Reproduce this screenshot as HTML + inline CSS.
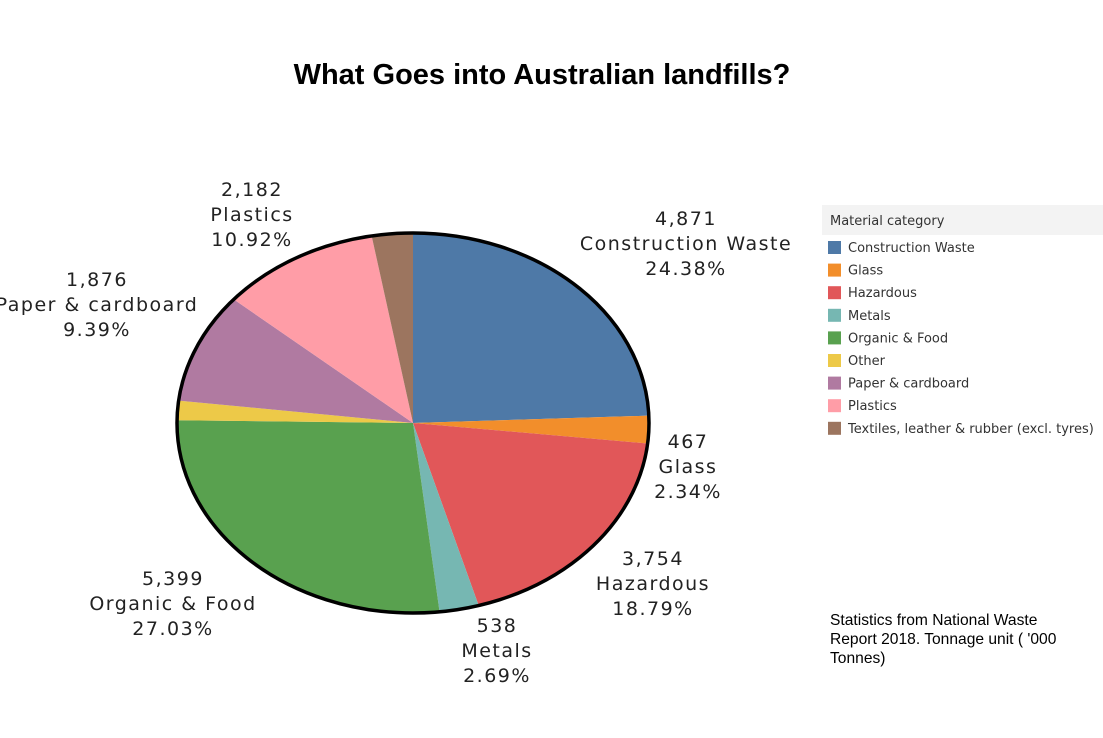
<!DOCTYPE html>
<html><head><meta charset="utf-8"><style>
body{margin:0;background:#fff;width:1103px;height:733px;overflow:hidden;font-family:"Liberation Sans",sans-serif}
</style></head><body>
<svg id="chart" width="1103" height="733">
<text x="542" y="84" text-anchor="middle" font-size="29" font-weight="bold" fill="#000">What Goes into Australian landfills?</text>
<g id="slices"></g>
<g id="labels" font-family="DejaVu Sans, sans-serif" font-size="19" fill="#222" letter-spacing="1.5"></g>
<rect x="822" y="205" width="281" height="30" fill="#f3f3f3"/>
<text x="830" y="225" font-size="13" fill="#333" font-family="DejaVu Sans, sans-serif">Material category</text>
<g id="legend" font-family="DejaVu Sans, sans-serif" font-size="13" fill="#333"></g>
<text font-size="15.6" fill="#000"><tspan x="830" y="625">Statistics from National Waste</tspan><tspan x="830" y="644">Report 2018. Tonnage unit ( '000</tspan><tspan x="830" y="663">Tonnes)</tspan></text>
</svg>
<script>
const categories=["Construction Waste","Glass","Hazardous","Metals","Organic & Food","Other","Paper & cardboard","Plastics","Textiles, leather & rubber (excl. tyres)"];
const values=[4871,467,3754,538,5399,330,1876,2182,560];
const colors=["#4e79a7","#f28e2b","#e15759","#76b7b2","#59a14f","#edc948","#b07aa1","#ff9da7","#9c755f"];
const labelPos=[[686,225],[688,448],[653,565],[497,632],[173,585],null,[97,286],[252,196],null];
const NS="http://www.w3.org/2000/svg";
const cx=413,cy=423,rx=236,ry=190;
const total=values.reduce((a,b)=>a+b,0);
function pt(t){return [cx+rx*Math.sin(t),cy-ry*Math.cos(t)];}
const sg=document.getElementById('slices'),lg=document.getElementById('labels'),leg=document.getElementById('legend');
let acc=0;
values.forEach((v,i)=>{
 const a0=acc/total*2*Math.PI;acc+=v;const a1=acc/total*2*Math.PI;
 let d=`M${cx},${cy}`;const n=Math.max(4,Math.ceil((a1-a0)*60));
 for(let k=0;k<=n;k++){const p=pt(a0+(a1-a0)*k/n);d+=`L${p[0].toFixed(2)},${p[1].toFixed(2)}`;}
 d+='Z';
 const p=document.createElementNS(NS,'path');p.setAttribute('d',d);p.setAttribute('fill',colors[i]);
 
 
 sg.appendChild(p);
 if(labelPos[i]){
  const t=document.createElementNS(NS,'text');t.setAttribute('text-anchor','middle');
  
  
  const lines=[v.toLocaleString('en-US'),categories[i],(v/total*100).toFixed(2)+'%'];
  lines.forEach((s,j)=>{const ts=document.createElementNS(NS,'tspan');ts.setAttribute('x',labelPos[i][0]);ts.setAttribute('y',labelPos[i][1]+j*25);ts.textContent=s;t.appendChild(ts);});
  lg.appendChild(t);
 }
 const r=document.createElementNS(NS,'rect');r.setAttribute('x',828);r.setAttribute('y',241+i*22.6);r.setAttribute('width',13);r.setAttribute('height',13);r.setAttribute('fill',colors[i]);
 
 
 leg.appendChild(r);
 const lt=document.createElementNS(NS,'text');lt.setAttribute('x',848);lt.setAttribute('y',252+i*22.6);lt.textContent=categories[i];
 
 
 leg.appendChild(lt);
});
const e=document.createElementNS(NS,'ellipse');e.setAttribute('cx',cx);e.setAttribute('cy',cy);e.setAttribute('rx',rx);e.setAttribute('ry',ry);e.setAttribute('fill','none');e.setAttribute('stroke','#000');e.setAttribute('stroke-width','3.5');


sg.appendChild(e);
</script>
</body></html>
